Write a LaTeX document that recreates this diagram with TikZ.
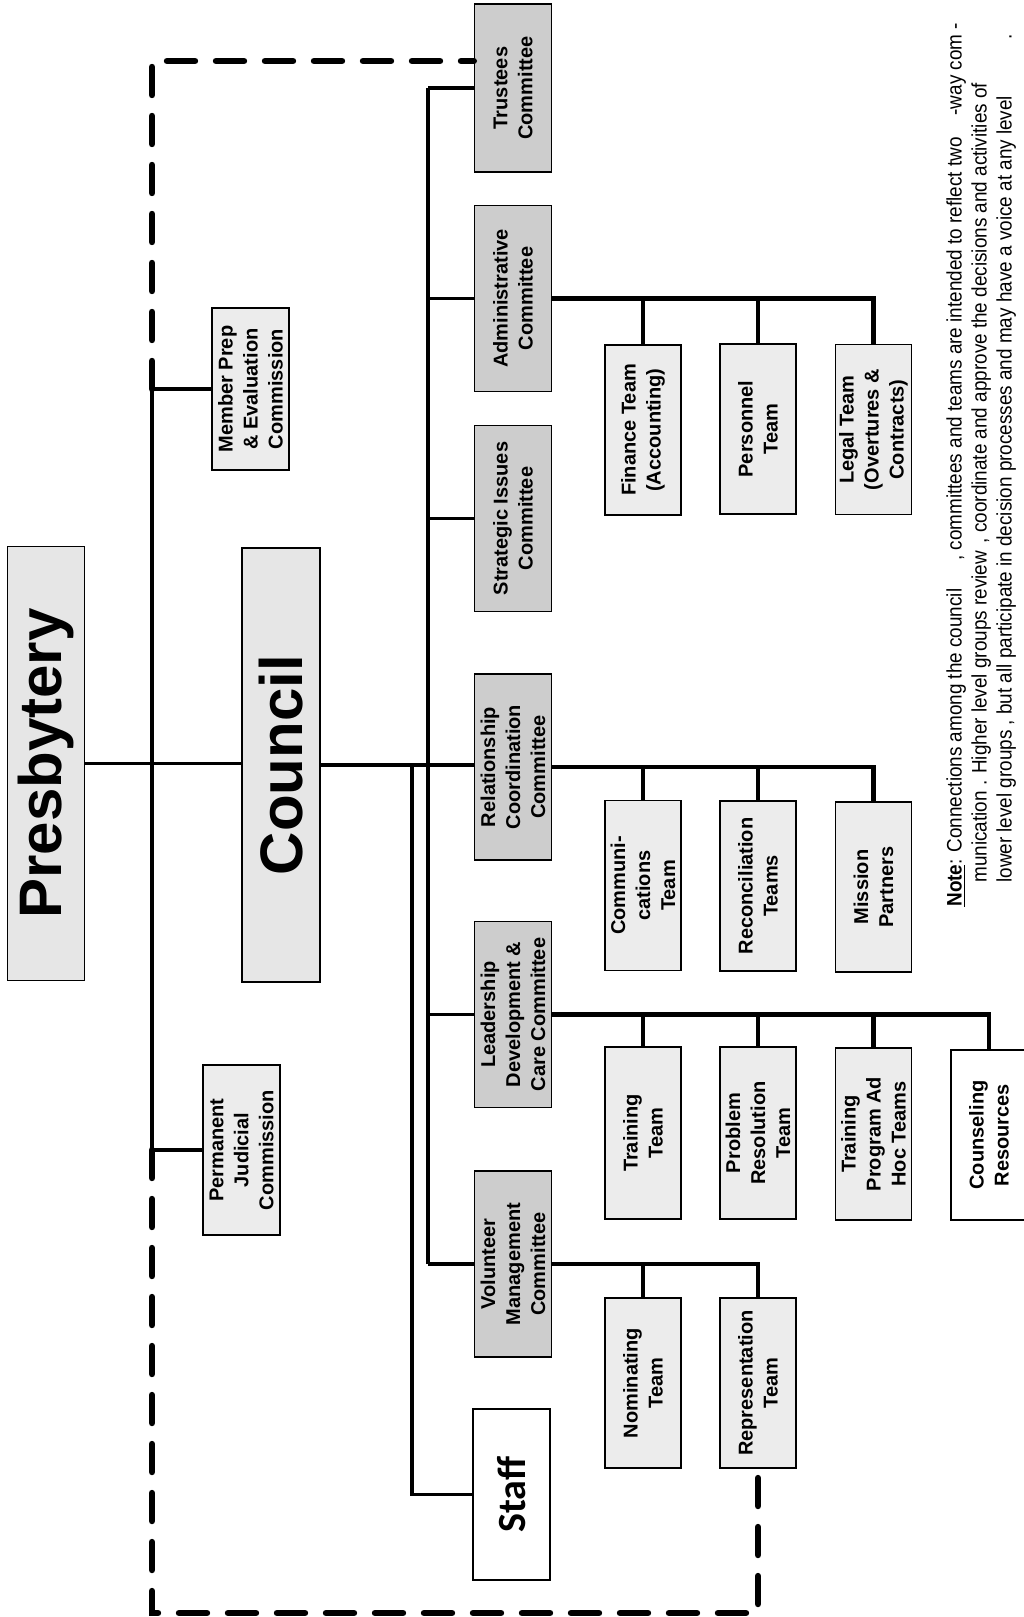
\documentclass[tikz,border=0pt]{standalone}
\usepackage{fontspec}
\setmainfont{Liberation Sans}
\newfontfamily\stafffont{Carlito}
\newfontfamily\notefont[FakeStretch=0.9]{Liberation Sans}
\usepackage{tikz}
\definecolor{committeegray}{RGB}{205,205,205}
\definecolor{teamgray}{RGB}{236,236,236}
\definecolor{headgray}{RGB}{230,230,230}
\tikzstyle{box} = [rectangle, draw=black, line width=0.7pt, rotate=90, inner sep=0pt, align=center, font=\bfseries\fontsize{10}{12.5}\selectfont]
\tikzstyle{committee} = [box, fill=committeegray, minimum width=93pt, minimum height=38.5pt]
\tikzstyle{team} = [box, fill=teamgray, minimum width=85pt, minimum height=38pt]
\tikzstyle{commission} = [box, fill=teamgray, minimum height=38.5pt]
\tikzstyle{head} = [box, fill=headgray, minimum width=217pt, minimum height=38.5pt, font=\bfseries\fontsize{30}{36}\selectfont]
\tikzstyle{notetext} = [rotate=90, align=left, inner sep=0pt, font=\notefont\fontsize{10.5}{12.5}\selectfont]
\tikzstyle{line} = [line width=1.7pt]
\tikzstyle{subline} = [line width=2.1pt]
\tikzstyle{dashline} = [line width=3.2pt, line cap=round, dash pattern=on 14pt off 10.5pt]

\begin{document}
\begin{tikzpicture}[x=0.5pt, y=-0.5pt]
\useasboundingbox (0,0) rectangle (1023,1617);

\node (presbytery) [head] at (46,763.5) {Presbytery};
\node (council) [head, minimum height=39pt] at (281,765) {Council};
\node (memberprep) [commission, minimum width=81pt] at (250.5,389) {Member Prep\\\& Evaluation\\Commission};
\node (judicial) [commission, minimum width=85pt] at (241.5,1150) {Permanent\\Judicial\\Commission};

\node (trustees) [committee, minimum width=84pt] at (513,88) {Trustees\\Committee};
\node (admin) [committee] at (513,298.5) {Administrative\\Committee};
\node (strategic) [committee] at (513,518.5) {Strategic Issues\\Committee};
\node (relationship) [committee] at (513,767) {Relationship\\Coordination\\Committee};
\node (leadership) [committee] at (513,1014.5) {Leadership\\Development \&\\Care Committee};
\node (volunteer) [committee] at (513,1264) {Volunteer\\Management\\Committee};
\node (staff) [box, fill=white, minimum width=85.5pt, minimum height=38.5pt, font=\stafffont\bfseries\fontsize{20}{24}\selectfont] at (511.5,1494.5) {Staff};

\node (finance) [team] at (643,430) {Finance Team\\(Accounting)};
\node (personnel) [team] at (758,429) {Personnel\\Team};
\node (legal) [team] at (873.5,429.5) {Legal Team\\(Overtures \&\\Contracts)};

\node (comms) [team] at (643,885.5) {Communi-\\cations\\Team};
\node (reconciliation) [team] at (758,886) {Reconciliation\\Teams};
\node (mission) [team] at (873.5,887) {Mission\\Partners};

\node (training) [team, minimum width=86pt] at (643,1133) {Training\\Team};
\node (problem) [team, minimum width=86pt] at (758,1133) {Problem\\Resolution\\Team};
\node (adhoc) [team, minimum width=86pt] at (873.5,1134) {Training\\Program Ad\\Hoc Teams};
\node (counseling) [team, fill=white, minimum width=85pt] at (989,1135) {Counseling\\Resources};

\node (nominating) [team] at (643,1383) {Nominating\\Team};
\node (representation) [team] at (758,1383) {Representation\\Team};

\node (note) [notetext, anchor=north west] at (946,907) {\underline{\textbf{Note}}: Connections among the council\hspace{14pt}, committees and teams are intended to reflect two\hspace{11pt}-way com -\\\hspace*{12pt}munication . Higher level groups review\hspace{4pt}, coordinate and approve the decisions and activities of\\\hspace*{12pt}lower level groups , but all participate in decision processes and may have a voice at any level\hspace{28pt}.};

\coordinate (mpj) at (152,389);
\coordinate (pjj) at (152,1150);
\coordinate (bus) at (428,0);
\coordinate (stafflink) at (412,0);
\coordinate (tl) at (152,61);
\coordinate (bl) at (152,1613);

\draw [line] (presbytery.south) -- (presbytery.south -| council.north);
\draw [line] (council.south) -- (council.south -| relationship.north);
\draw [line] (mpj) -- (pjj);
\draw [line] (mpj) -- (memberprep.north);
\draw [line] (pjj) -- (judicial.north);

\draw [line] (bus |- trustees.north) -- (bus |- volunteer.north);
\draw [line] (bus |- trustees.north) -- (trustees.north);
\draw [line] (bus |- admin.north) -- (admin.north);
\draw [line] (bus |- strategic.north) -- (strategic.north);
\draw [line] (bus |- leadership.north) -- (leadership.north);
\draw [line] (bus |- volunteer.north) -- (volunteer.north);
\draw [line] (stafflink |- council.south) -- (stafflink |- staff.north) -- (staff.north);

\draw [subline] (admin.south) -| (legal.east);
\draw [subline] (finance.east) -- (finance.east |- admin.south);
\draw [subline] (personnel.east) -- (personnel.east |- admin.south);

\draw [subline] (relationship.south) -| (mission.east);
\draw [subline] (comms.east) -- (comms.east |- relationship.south);
\draw [subline] (reconciliation.east) -- (reconciliation.east |- relationship.south);

\draw [subline] (leadership.south) -| (counseling.east);
\draw [subline] (training.east) -- (training.east |- leadership.south);
\draw [subline] (problem.east) -- (problem.east |- leadership.south);
\draw [subline] (adhoc.east) -- (adhoc.east |- leadership.south);

\draw [subline] (volunteer.south) -| (representation.east);
\draw [subline] (nominating.east) -- (nominating.east |- volunteer.south);

\draw [dashline] (mpj) -- (tl) -- (tl -| trustees.north);
\draw [dashline] (pjj) -- (bl) -- (bl -| representation.west) -- (representation.west);

\end{tikzpicture}
\end{document}
